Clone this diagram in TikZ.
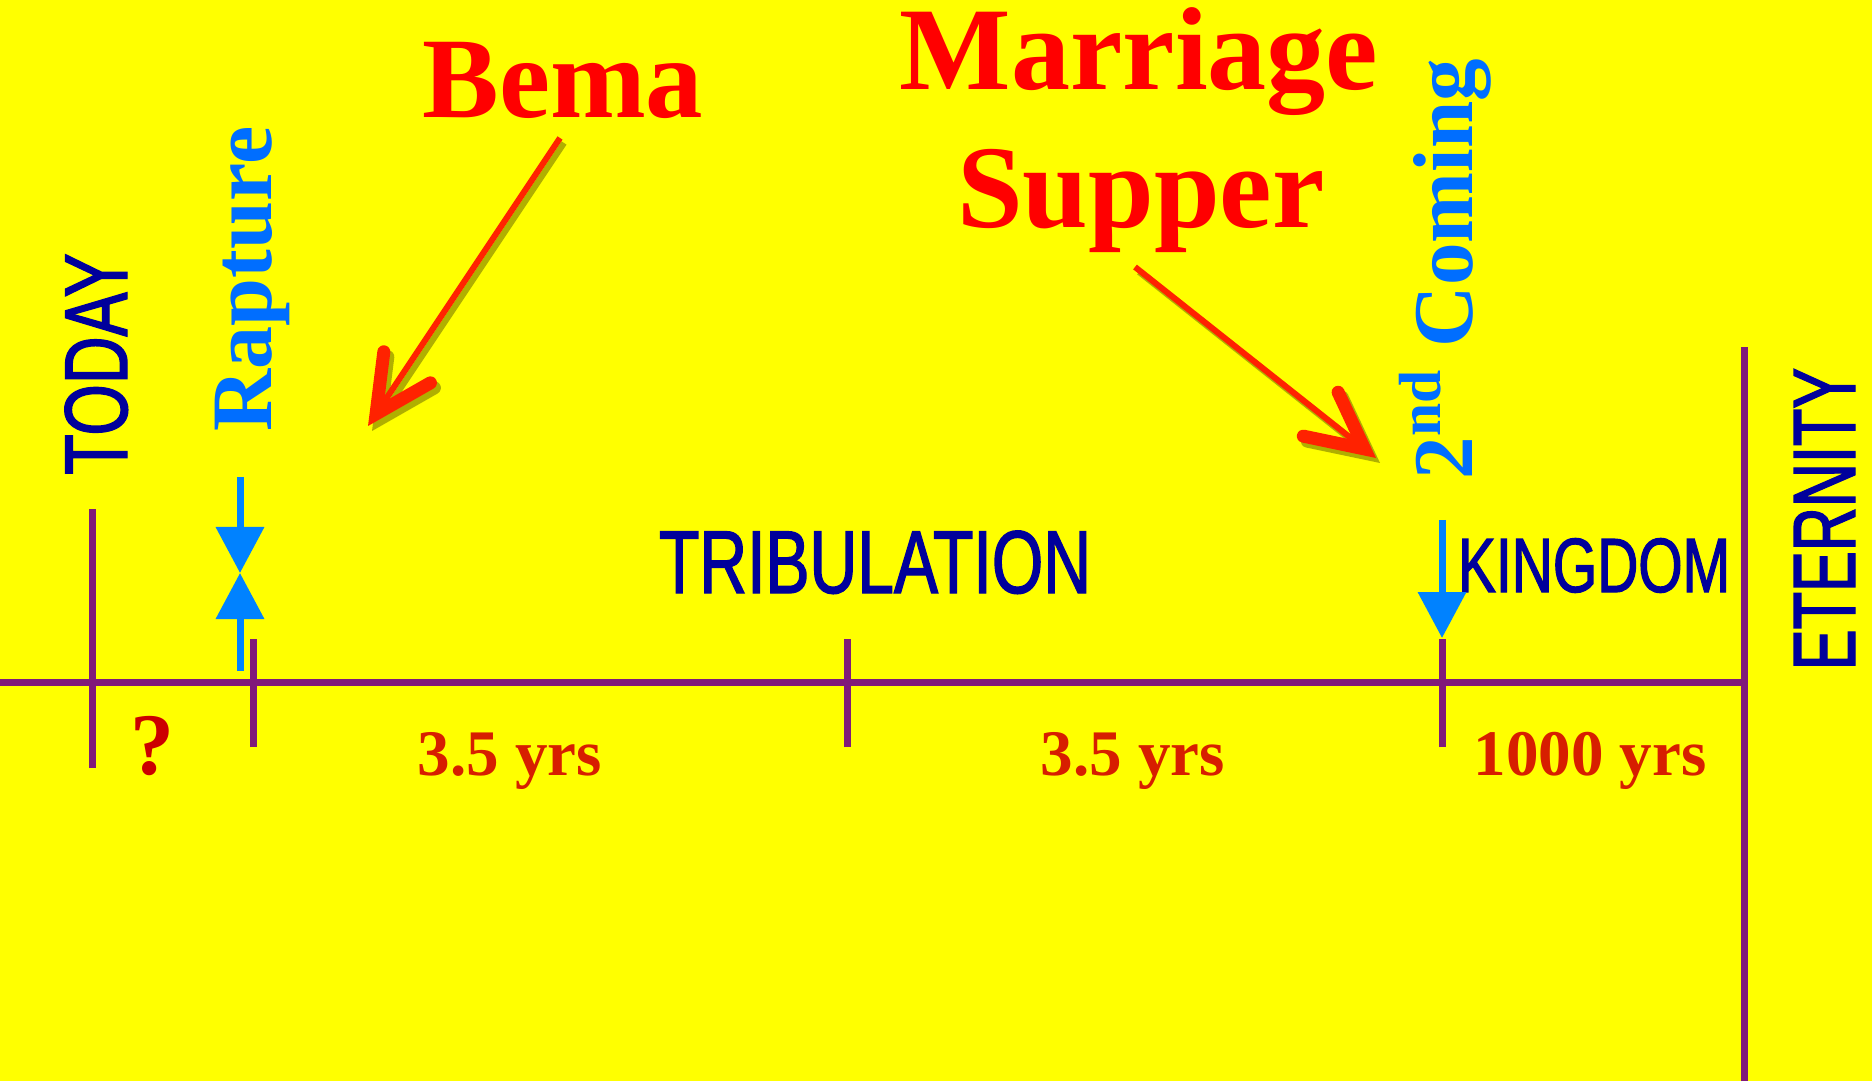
\documentclass[tikz,border=0pt]{standalone}
\usepackage{fontspec}
\setmainfont{Liberation Serif}
\newfontfamily\narrowsans[FakeStretch=0.74,FakeBold=1.5]{Liberation Sans}
\newfontfamily\narrowersans[FakeStretch=0.69,FakeBold=1.5]{Liberation Sans}
\usetikzlibrary{arrows.meta}
\definecolor{bgyellow}{RGB}{255,255,0}
\definecolor{linepurple}{RGB}{128,26,122}
\definecolor{darkblue}{RGB}{0,0,155}
\definecolor{lightblue}{RGB}{0,110,255}
\definecolor{arrowblue}{RGB}{0,130,255}
\definecolor{arrowred}{RGB}{255,34,0}
\definecolor{yrsred}{RGB}{215,30,0}
\definecolor{qred}{RGB}{204,0,0}
\definecolor{shadowolive}{RGB}{110,110,0}
\tikzset{
	period/.style={font=\narrowsans\fontsize{25.4}{30}\selectfont, text=darkblue, inner sep=0pt, anchor=base},
	event/.style={font=\bfseries\fontsize{24.5}{29}\selectfont, text=lightblue, inner sep=0pt, anchor=base, rotate=90},
	feast/.style={font=\bfseries\fontsize{33.6}{40}\selectfont, text=red, inner sep=0pt, anchor=base},
	span/.style={font=\bfseries\fontsize{18.5}{22}\selectfont, text=yrsred, inner sep=0pt, anchor=base},
	timeline/.style={draw=linepurple, line width=.7mm},
	bluearrow/.style={draw=arrowblue, line width=.7mm, -{Triangle[length=4.6mm,width=4.7mm]}},
	redarrow/.style={draw=arrowred, line width=.6mm, -{Straight Barb[length=5.6mm,width=5.6mm,line width=1.3mm,line cap=round,line join=miter]}},
	redshadow/.style={redarrow, draw=shadowolive, opacity=.55, transform canvas={shift={(.4mm,-.5mm)}}}
}
\begin{document}
\begin{tikzpicture}[x=.1mm,y=.1mm]
	\fill[bgyellow] (0,0) rectangle (1872,1081);
	\useasboundingbox (0,0) rectangle (1872,1081);
	% time line and ticks
	\draw[timeline] (0,399) -- (1744,399);
	\draw[timeline] (1744,0) -- (1744,734);
	\draw[timeline] (92,313) -- (92,572);
	\foreach \x in {253,847,1442}
	\draw[timeline] (\x,334) -- (\x,442);
	% periods
	\node[period, rotate=90] (today) at (127,717) {TODAY};
	\node[period] (trib) at (875,488) {TRIBULATION};
	\node[period, font=\narrowsans\fontsize{21.9}{26}\selectfont] (kingdom) at (1594,489) {KINGDOM};
	\node[period, rotate=90, font=\narrowersans\fontsize{25.2}{30}\selectfont] (eternity) at (1855,562) {ETERNITY};
	% events
	\node[event] (rapture) at (271,802) {Rapture};
	\node[event, font=\bfseries\fontsize{24.2}{29}\selectfont] (coming) at (1472,812) {2\textsuperscript{nd} Coming};
	\node[feast, font=\bfseries\fontsize{32.7}{39}\selectfont] (bema) at (563,963) {Bema};
	\node[feast] (marriage) at (1139,991) {Marriage};
	\node[feast] (supper) at (1141,853) {Supper};
	% lengths
	\node[span, text=qred, font=\bfseries\fontsize{25}{30}\selectfont] (unknown) at (152,307) {?};
	\node[span] (firsthalf) at (510,306) {3.5 yrs};
	\node[span] (secondhalf) at (1133,306) {3.5 yrs};
	\node[span] (millennium) at (1590,306) {1000 yrs};
	% arrows
	\coordinate (raptop) at (240,604);
	\coordinate (rapbot) at (240,410);
	\coordinate (rapmeet) at (240,508);
	\coordinate (comtop) at (1442,561);
	\coordinate (comend) at (1442,443);
	\coordinate (bemaend) at (368,655);
	\coordinate (supperend) at (1376,623);
	\draw[bluearrow] (raptop) -- (rapmeet);
	\draw[bluearrow] (rapbot) -- (rapmeet);
	\draw[bluearrow] (comtop) -- (comend);
	\draw[redshadow] ([shift={(-3,-20)}]bema.base) -- (bemaend);
	\draw[redarrow] ([shift={(-3,-20)}]bema.base) -- (bemaend);
	\draw[redshadow] ([shift={(-6,-39)}]supper.base) -- (supperend);
	\draw[redarrow] ([shift={(-6,-39)}]supper.base) -- (supperend);
\end{tikzpicture}
\end{document}
